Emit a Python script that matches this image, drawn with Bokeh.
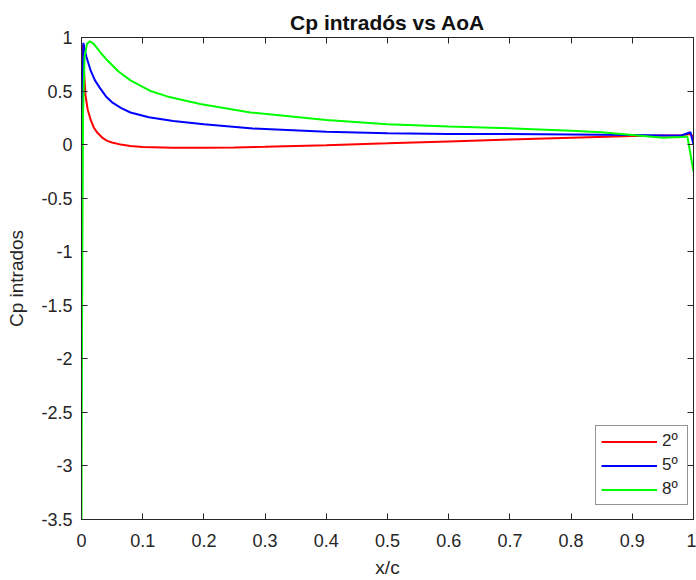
from bokeh.plotting import figure
from bokeh.models import LinearAxis, FixedTicker, Range1d, Legend, LegendItem
from bokeh.embed import file_html
from bokeh.resources import INLINE

# ---- data ----
x_2deg = [0.0, 0.002, 0.004, 0.0065, 0.01, 0.015, 0.02, 0.026, 0.035, 0.042, 0.05, 0.064,
          0.08, 0.1, 0.15, 0.2, 0.25, 0.3, 0.4, 0.5, 0.6, 0.7, 0.8, 0.9, 0.95, 0.98, 0.995, 1.0]
cp_2deg = [0.65, 0.93, 0.7, 0.46, 0.33, 0.23, 0.16, 0.11, 0.06, 0.035, 0.02, 0.0,
           -0.012, -0.022, -0.03, -0.03, -0.026, -0.02, -0.005, 0.012, 0.03, 0.047, 0.065, 0.08, 0.085, 0.088, 0.1, 0.07]

x_5deg = [0.0, 0.003, 0.008, 0.015, 0.022, 0.03, 0.04, 0.05, 0.065, 0.08, 0.11, 0.15, 0.2,
          0.28, 0.4, 0.5, 0.6, 0.7, 0.8, 0.9, 0.95, 0.98, 0.995, 1.0]
cp_5deg = [-0.13, 0.95, 0.82, 0.69, 0.6, 0.53, 0.45, 0.395, 0.34, 0.3, 0.255, 0.22, 0.19,
           0.15, 0.12, 0.105, 0.1, 0.1, 0.095, 0.09, 0.085, 0.085, 0.115, 0.0]

x_8deg = [0.0, 0.001, 0.0025, 0.005, 0.009, 0.0136, 0.02, 0.0255, 0.031, 0.04, 0.047, 0.06,
          0.08, 0.113, 0.14, 0.194, 0.276, 0.4, 0.5, 0.6, 0.685, 0.8, 0.85, 0.9, 0.95, 0.98,
          0.99, 1.0]
cp_8deg = [-3.5, -1.5, 0.3, 0.82, 0.94, 0.965, 0.94, 0.9, 0.86, 0.8, 0.76, 0.685,
           0.6, 0.5, 0.45, 0.38, 0.3, 0.23, 0.19, 0.17, 0.155, 0.13, 0.115, 0.09, 0.065, 0.07,
           0.075, -0.25]

series_labels = ["2º", "5º", "8º"]
series_colors = ["#ff0000", "#0000ff", "#00ff00"]

x_ticks = [0, 0.1, 0.2, 0.3, 0.4, 0.5, 0.6, 0.7, 0.8, 0.9, 1]
x_tick_labels = ["0", "0.1", "0.2", "0.3", "0.4", "0.5", "0.6", "0.7", "0.8", "0.9", "1"]
y_ticks = [-3.5, -3, -2.5, -2, -1.5, -1, -0.5, 0, 0.5, 1]
y_tick_labels = ["-3.5", "-3", "-2.5", "-2", "-1.5", "-1", "-0.5", "0", "0.5", "1"]

FONT = "Liberation Sans"
AX = "#262626"

p = figure(width=696, height=580, output_backend="svg", toolbar_location=None,
           x_range=Range1d(0, 1), y_range=Range1d(-3.5, 1),
           title="Cp intradós vs AoA",
           min_border_left=81, min_border_right=3, min_border_top=37, min_border_bottom=59)

p.title.text_font = FONT
p.title.text_font_size = "21px"
p.title.text_font_style = "bold"
p.title.text_color = "#111111"
p.title.align = "center"
p.title.standoff = 8

p.xgrid.visible = False
p.ygrid.visible = False
p.outline_line_color = AX
p.outline_line_width = 1
p.background_fill_color = "white"
p.border_fill_color = "white"

renderers = []
for xs, ys, c in zip([x_2deg, x_5deg, x_8deg], [cp_2deg, cp_5deg, cp_8deg], series_colors):
    r = p.line(xs, ys, line_color=c, line_width=2)
    renderers.append(r)

def style_axis(ax, ticks, labels, show_labels=True):
    ax.ticker = FixedTicker(ticks=ticks)
    ax.minor_tick_line_color = None
    ax.major_tick_in = 6
    ax.major_tick_out = 0
    ax.major_tick_line_color = AX
    ax.axis_line_color = AX
    ax.major_label_text_font = FONT
    if show_labels:
        ax.major_label_overrides = dict(zip(ticks, labels))
        ax.major_label_text_color = AX
        ax.major_label_text_font_size = "18px"
    else:
        ax.major_label_text_color = None
        ax.major_label_text_font_size = "1px"
        ax.major_label_standoff = 0
    ax.axis_label_text_font = FONT
    ax.axis_label_text_font_size = "19px"
    ax.axis_label_text_font_style = "normal"
    ax.axis_label_text_color = AX

style_axis(p.xaxis[0], x_ticks, x_tick_labels)
style_axis(p.yaxis[0], y_ticks, y_tick_labels)
p.xaxis[0].axis_label = "x/c"
p.yaxis[0].axis_label = "Cp intrados"
p.xaxis[0].major_label_standoff = 14
p.yaxis[0].major_label_standoff = 9
p.xaxis[0].axis_label_standoff = 7
p.yaxis[0].axis_label_standoff = 11

top = LinearAxis()
style_axis(top, x_ticks, x_tick_labels, show_labels=False)
p.add_layout(top, "above")
right = LinearAxis()
style_axis(right, y_ticks, y_tick_labels, show_labels=False)
p.add_layout(right, "right")

legend = Legend(items=[LegendItem(label=l, renderers=[r]) for l, r in zip(series_labels, renderers)],
                location=(514, 14))
legend.label_text_font = FONT
legend.label_text_font_size = "17px"
legend.label_text_color = AX
legend.border_line_color = AX
legend.border_line_width = 1
legend.background_fill_color = "white"
legend.background_fill_alpha = 1
legend.glyph_width = 56
legend.glyph_height = 19
legend.label_height = 19
legend.label_standoff = 5
legend.spacing = 4
legend.padding = 5
legend.margin = 0
p.add_layout(legend, "center")

open("out.html", "w").write(file_html(p, INLINE))
